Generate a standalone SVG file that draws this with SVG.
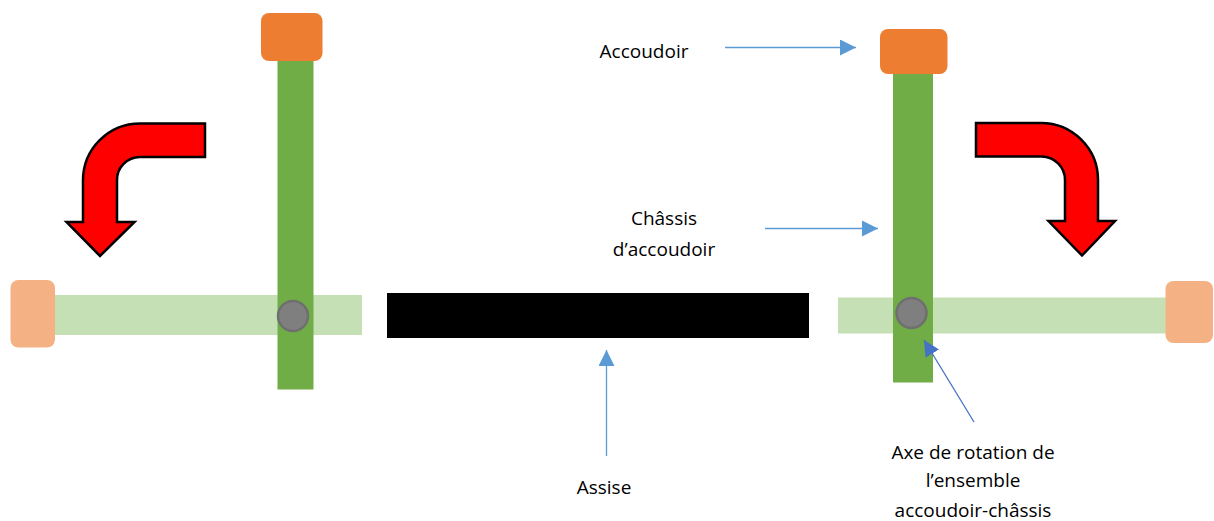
<svg xmlns="http://www.w3.org/2000/svg" width="1214" height="521" viewBox="0 0 1214 521">
<style>
.t{font-family:"Open Sans","Noto Sans",sans-serif;font-size:19px;fill:#000;text-anchor:middle}
.red{fill:#f00;stroke:#000;stroke-width:2.5;stroke-miterlimit:8}
.g{fill:#70ad47}.lg{fill:#c5e0b4}.o{fill:#ed7d31}.lo{fill:#f4b183}
.c{fill:#7f7f7f;stroke:#6f6f6f;stroke-width:2.5}
.l1{stroke:#5b9bd5;stroke-width:1.3;fill:none}
.l2{stroke:#4472c4;stroke-width:1.3;fill:none}
</style>
<defs>
<marker id="a1" markerUnits="userSpaceOnUse" markerWidth="16" markerHeight="16" refX="16" refY="8" orient="auto"><path d="M0 0L16 8L0 16Z" fill="#5b9bd5"/></marker>
<marker id="a2" markerUnits="userSpaceOnUse" markerWidth="16" markerHeight="16" refX="16" refY="8" orient="auto"><path d="M0 0L16 8L0 16Z" fill="#4472c4"/></marker>
</defs>
<g id="chassis-gauche-baisse"><rect class="lg" x="54" y="295" width="308" height="40"/></g>
<g id="chassis-gauche-releve"><rect class="g" x="277.500" y="60" width="36" height="329.500"/></g>
<g id="accoudoir-gauche-releve"><rect class="o" x="261" y="13" width="61.500" height="48" rx="8"/></g>
<g id="accoudoir-gauche-baisse"><rect class="lo" x="10.500" y="280" width="44.500" height="67.500" rx="8"/></g>
<g id="axe-gauche"><circle class="c" cx="293" cy="316" r="15"/></g>
<g id="assise"><rect x="387" y="293" width="422" height="45" fill="#000"/></g>
<g id="chassis-droit-baisse"><rect class="lg" x="838" y="297.500" width="332" height="36"/></g>
<g id="chassis-droit-releve"><rect class="g" x="893" y="73" width="40" height="309.500"/></g>
<g id="accoudoir-droit-releve"><rect class="o" x="880" y="29" width="67.500" height="45" rx="8"/></g>
<g id="accoudoir-droit-baisse"><rect class="lo" x="1165.500" y="281" width="47.500" height="62" rx="8"/></g>
<g id="axe-droit"><circle class="c" cx="911.500" cy="313" r="15"/></g>
<g id="fleche-gauche"><path class="red" d="M205 123.500H140A57 57 0 0 0 83 180.500V222H66.500L100 256L134.500 222H117V180.500A23 23 0 0 1 140 157H205Z"/></g>
<g id="fleche-droite"><path class="red" d="M976 123H1041A57 57 0 0 1 1098 180V221H1115L1082 255.500L1048.500 221H1065V180A23.500 23.500 0 0 0 1041.500 156.500H976Z"/></g>
<g id="connecteurs">
<line class="l1" x1="725" y1="47.500" x2="856" y2="47.500" marker-end="url(#a1)"/>
<line class="l1" x1="765" y1="228.500" x2="878" y2="228.500" marker-end="url(#a1)"/>
<line class="l1" x1="606.500" y1="456" x2="606.500" y2="350" marker-end="url(#a1)"/>
<line class="l2" x1="974" y1="422" x2="924" y2="340" marker-end="url(#a2)"/>
</g>
<g id="labels">
<text class="t" x="644" y="58">Accoudoir</text>
<text class="t" x="664" y="225">Châssis</text>
<text class="t" x="664" y="256">d’accoudoir</text>
<text class="t" x="604" y="494">Assise</text>
<text class="t" x="973" y="459">Axe de rotation de</text>
<text class="t" x="973" y="487">l’ensemble</text>
<text class="t" x="973" y="517">accoudoir-châssis</text>
</g>
</svg>
